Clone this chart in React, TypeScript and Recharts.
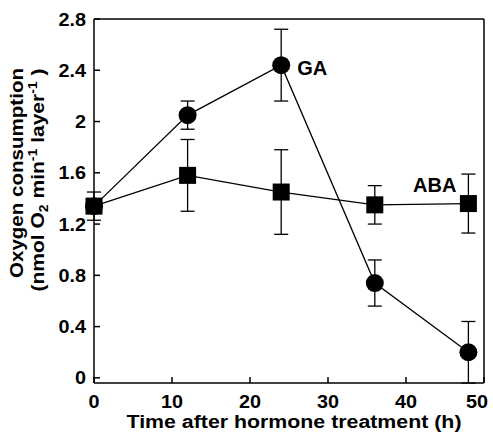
import React from 'react';
import {
  LineChart,
  Line,
  XAxis,
  YAxis,
  ErrorBar,
  ReferenceLine,
} from 'recharts';

// values
const hours = [0, 12, 24, 36, 48];
const gaValues = [1.34, 2.05, 2.44, 0.74, 0.2];
const gaErrors = [0, 0.11, 0.28, 0.18, 0.24];
const abaValues = [1.34, 1.58, 1.45, 1.35, 1.36];
const abaErrors = [0.11, 0.28, 0.33, 0.15, 0.23];

const xTicks = [0, 10, 20, 30, 40, 50];
const yTicks = [0, 0.4, 0.8, 1.2, 1.6, 2, 2.4, 2.8];

const data = hours.map((h, i) => ({
  hour: h,
  ga: gaValues[i],
  gaErr: gaErrors[i],
  aba: abaValues[i],
  abaErr: abaErrors[i],
}));

const FONT = '"Liberation Sans", Arial, Helvetica, sans-serif';

const XTick = ({ x, y, payload, index }: any) => {
  // last label sits flush with the frame so it stays inside the page
  const last = index === xTicks.length - 1;
  return (
    <g>
      <line x1={x} y1={y} x2={x} y2={y - 6} stroke="#000" strokeWidth={1.5} />
      <text
        transform={`translate(${last ? x + 4 : x},${y + 25}) scale(1.1,1)`}
        textAnchor={last ? 'end' : 'middle'}
        fontFamily={FONT}
        fontWeight="bold"
        fontSize={18}
        fill="#000"
      >
        {payload.value}
      </text>
    </g>
  );
};

const YTick = ({ x, y, payload }: any) => (
  <g>
    <line x1={x} y1={y} x2={x + 6} y2={y} stroke="#000" strokeWidth={1.5} />
    <text
      transform={`translate(${x - 8},${y + 6.5}) scale(1.1,1)`}
      textAnchor="end"
      fontFamily={FONT}
      fontWeight="bold"
      fontSize={18}
      fill="#000"
    >
      {payload.value}
    </text>
  </g>
);

const CircleDot = ({ cx, cy }: any) => <circle cx={cx} cy={cy} r={9} fill="#000" />;
const SquareDot = ({ cx, cy }: any) => (
  <rect x={cx - 8.5} y={cy - 8.5} width={17} height={17} fill="#000" />
);

const GaLabel = ({ x, y, index }: any) =>
  index === 2 ? (
    <text x={x + 16} y={y + 10} fontFamily={FONT} fontWeight="bold" fontSize={20} fill="#000">
      GA
    </text>
  ) : null;

const AbaLabel = ({ x, y, index }: any) =>
  index === 4 ? (
    <text x={x - 12} y={y - 12} textAnchor="end" fontFamily={FONT} fontWeight="bold" fontSize={20} fill="#000">
      ABA
    </text>
  ) : null;

const YTitle = ({ viewBox }: any) => {
  const cy = viewBox.y + viewBox.height / 2;
  const l1y = cy - 28;
  const l2y = cy - 21;
  return (
    <g fontFamily={FONT} fontWeight="bold" fill="#000">
      <text
        x={23}
        y={l1y}
        fontSize={18}
        textAnchor="middle"
        textLength={210}
        lengthAdjust="spacingAndGlyphs"
        transform={`rotate(-90 23 ${l1y})`}
      >
        Oxygen consumption
      </text>
      <text
        x={44}
        y={l2y}
        fontSize={18}
        textAnchor="middle"
        textLength={223}
        lengthAdjust="spacingAndGlyphs"
        transform={`rotate(-90 44 ${l2y})`}
      >
        (nmol O
        <tspan fontSize={12} dy={4}>2</tspan>
        <tspan dy={-4}> min</tspan>
        <tspan fontSize={12} dy={-7}>-1</tspan>
        <tspan dy={7}> layer</tspan>
        <tspan fontSize={12} dy={-7}>-1</tspan>
        <tspan dy={7}> )</tspan>
      </text>
    </g>
  );
};

const XTitle = ({ viewBox }: any) => (
  <text
    x={viewBox.x + viewBox.width / 2 + 5}
    y={428}
    textAnchor="middle"
    textLength={335}
    lengthAdjust="spacingAndGlyphs"
    fontFamily={FONT}
    fontWeight="bold"
    fontSize={18}
    fill="#000"
  >
    Time after hormone treatment (h)
  </text>
);

export default function App() {
  return (
    <div style={{ position: 'absolute', left: 0, top: 0, background: '#fff' }}>
      <LineChart
        width={493}
        height={432}
        data={data}
        margin={{ top: 19, right: 9, bottom: 0, left: 0 }}
      >
        <XAxis
          dataKey="hour"
          type="number"
          domain={[0, 50]}
          ticks={xTicks}
          height={49}
          tickSize={0}
          tickMargin={0}
          tickLine={false}
          tick={<XTick />}
          axisLine={{ stroke: '#000', strokeWidth: 1.5 }}
          label={<XTitle />}
        />
        <YAxis
          type="number"
          domain={[0, 2.8]}
          ticks={yTicks}
          width={94}
          tickSize={0}
          tickMargin={0}
          tickLine={false}
          tick={<YTick />}
          axisLine={{ stroke: '#000', strokeWidth: 1.5 }}
          label={<YTitle />}
        />
        <ReferenceLine y={2.8} stroke="#000" strokeWidth={1.5} />
        <ReferenceLine x={50} stroke="#000" strokeWidth={1.5} />
        <Line
          dataKey="aba"
          stroke="#000"
          strokeWidth={1.3}
          dot={<SquareDot />}
          activeDot={false}
          isAnimationActive={false}
          label={<AbaLabel />}
        >
          <ErrorBar dataKey="abaErr" direction="y" width={7} stroke="#000" strokeWidth={1.3} />
        </Line>
        <Line
          dataKey="ga"
          stroke="#000"
          strokeWidth={1.3}
          dot={<CircleDot />}
          activeDot={false}
          isAnimationActive={false}
          label={<GaLabel />}
        >
          <ErrorBar dataKey="gaErr" direction="y" width={7} stroke="#000" strokeWidth={1.3} />
        </Line>
      </LineChart>
    </div>
  );
}
